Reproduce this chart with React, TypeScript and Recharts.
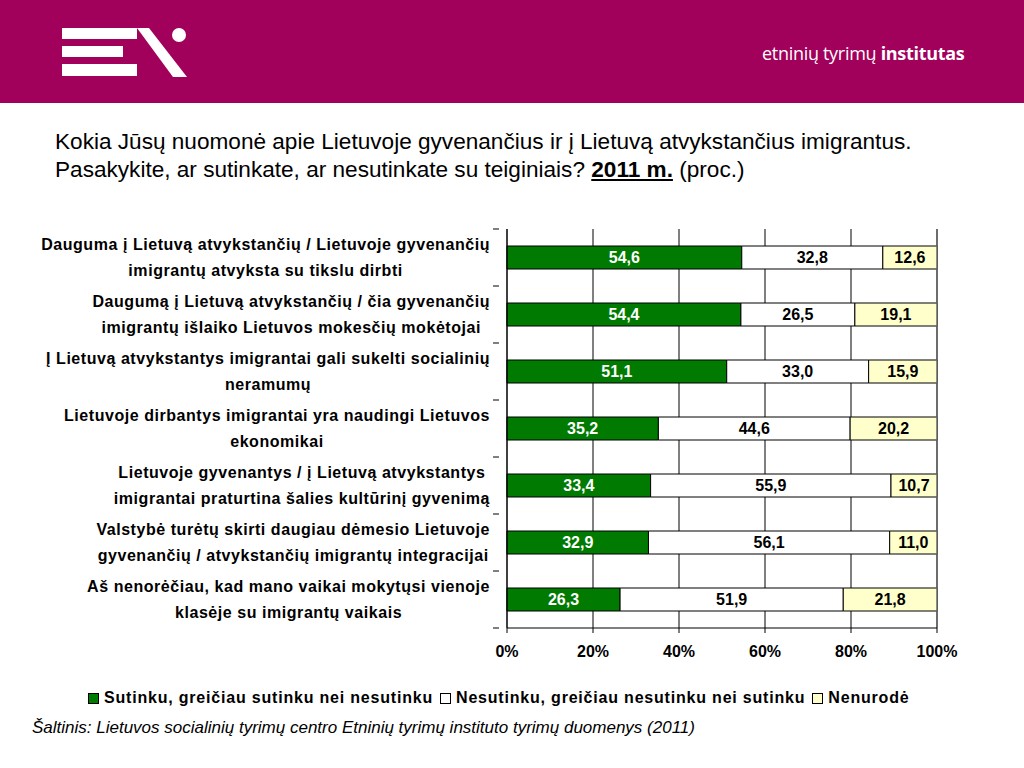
import React from 'react'
import { BarChart, Bar, XAxis, YAxis, CartesianGrid, LabelList, ReferenceLine } from 'recharts'

const categories = [
  'Dauguma į Lietuvą atvykstančių / Lietuvoje gyvenančių\nimigrantų atvyksta su tikslu dirbti',
  'Daugumą į Lietuvą atvykstančių / čia gyvenančių\nimigrantų išlaiko Lietuvos mokesčių mokėtojai',
  'Į Lietuvą atvykstantys imigrantai gali sukelti socialinių\nneramumų',
  'Lietuvoje dirbantys imigrantai yra naudingi Lietuvos\nekonomikai',
  'Lietuvoje gyvenantys / į Lietuvą atvykstantys\nimigrantai praturtina šalies kultūrinį gyvenimą',
  'Valstybė turėtų skirti daugiau dėmesio Lietuvoje\ngyvenančių / atvykstančių imigrantų integracijai',
  'Aš nenorėčiau, kad mano vaikai mokytųsi vienoje\nklasėje su imigrantų vaikais',
]
const agree = [54.6, 54.4, 51.1, 35.2, 33.4, 32.9, 26.3]
const disagree = [32.8, 26.5, 33.0, 44.6, 55.9, 56.1, 51.9]
const noAnswer = [12.6, 19.1, 15.9, 20.2, 10.7, 11.0, 21.8]
const xTicks = [0, 20, 40, 60, 80, 100]

const seriesNames = [
  'Sutinku, greičiau sutinku nei nesutinku',
  'Nesutinku, greičiau nesutinku nei sutinku',
  'Nenurodė',
]
const seriesColors = ['#007A00', '#FFFFFF', '#FFFFCC']

const data = categories.map((c, i) => ({
  name: c,
  agree: agree[i],
  disagree: disagree[i],
  noAnswer: noAnswer[i],
}))

const FONT = '"Liberation Sans", Arial, sans-serif'
const CHART_W = 1024
const CHART_H = 768
const MARGIN = { top: 229, right: 87, bottom: 110, left: 0 }
const Y_AXIS_W = 507
const X_AXIS_H = 30
const PLOT_H = CHART_H - MARGIN.top - MARGIN.bottom - X_AXIS_H
const BAND = PLOT_H / categories.length

const fmt = (v: any) => Number(v).toFixed(1).replace('.', ',')
const labelStyle = { fontSize: 16, fontWeight: 'bold', fontFamily: FONT }

const CategoryTick = (props: any) => {
  const { x, y, payload, index } = props
  const lines = String(payload.value).split('\n')
  return (
    <g>
      <line x1={x - 6} x2={x} y1={y - BAND / 2} y2={y - BAND / 2} stroke="#000" />
      {index === categories.length - 1 && (
        <line x1={x - 6} x2={x} y1={y + BAND / 2} y2={y + BAND / 2} stroke="#000" />
      )}
      <foreignObject x={0} y={y - BAND / 2} width={x - 9} height={BAND}>
        <div
          style={{
            width: '100%',
            height: '100%',
            display: 'flex',
            alignItems: 'center',
            justifyContent: 'flex-end',
          }}
        >
          <div
            style={{
              textAlign: 'center',
              fontFamily: FONT,
              fontWeight: 'bold',
              fontSize: 16,
              letterSpacing: 0.55,
              lineHeight: '26px',
              color: '#000',
              whiteSpace: 'nowrap',
            }}
          >
            {lines.map((l, i) => (
              <div key={i}>{l}</div>
            ))}
          </div>
        </div>
      </foreignObject>
    </g>
  )
}

const Logo = () => (
  <svg width={200} height={100} style={{ position: 'absolute', left: 0, top: 0 }}>
    <rect x={62} y={28} width={75} height={11} fill="#fff" />
    <rect x={62} y={46} width={61} height={11} fill="#fff" />
    <rect x={62} y={64} width={75} height={12} fill="#fff" />
    <polygon points="137,28 149,28 187,77 173,77" fill="#fff" />
    <circle cx={179} cy={35} r={7} fill="#fff" />
  </svg>
)

export default function App() {
  return (
    <div
      style={{
        position: 'absolute',
        left: 0,
        top: 0,
        width: CHART_W,
        height: CHART_H,
        background: '#fff',
        fontFamily: FONT,
        overflow: 'hidden',
      }}
    >
      <div style={{ position: 'absolute', left: 0, top: 0, width: 1024, height: 103, background: '#A1005B' }}>
        <Logo />
        <div
          style={{
            position: 'absolute',
            left: 762,
            top: 41,
            color: '#fff',
            fontSize: 18,
            fontFamily: '"Open Sans", sans-serif',
            letterSpacing: -0.3,
          }}
        >
          etninių tyrimų <b>institutas</b>
        </div>
      </div>

      <div
        style={{
          position: 'absolute',
          left: 55,
          top: 128,
          fontSize: 22.6,
          lineHeight: '28px',
          color: '#000',
          whiteSpace: 'nowrap',
        }}
      >
        Kokia Jūsų nuomonė apie Lietuvoje gyvenančius ir į Lietuvą atvykstančius imigrantus.
        <br />
        Pasakykite, ar sutinkate, ar nesutinkate su teiginiais?{' '}
        <b style={{ textDecoration: 'underline' }}>2011 m.</b> (proc.)
      </div>

      <div style={{ position: 'absolute', left: 0, top: 0 }}>
        <BarChart
          width={CHART_W}
          height={CHART_H}
          data={data}
          layout="vertical"
          margin={MARGIN}
          barSize={23}
        >
          <CartesianGrid horizontal={false} vertical={true} stroke="#000" />
          <XAxis
            type="number"
            domain={[0, 100]}
            ticks={xTicks}
            height={X_AXIS_H}
            tickFormatter={(v) => `${v}%`}
            tick={{ fill: '#000', fontSize: 16, fontWeight: 'bold', fontFamily: FONT }}
            axisLine={{ stroke: '#000' }}
            tickLine={{ stroke: '#000' }}
            tickSize={5}
            tickMargin={13}
            interval={0}
          />
          <XAxis
            xAxisId="top"
            orientation="top"
            type="number"
            domain={[0, 100]}
            height={0}
            tick={false}
            tickLine={false}
            axisLine={{ stroke: '#9a9a9a' }}
          />
          <YAxis
            type="category"
            dataKey="name"
            width={Y_AXIS_W}
            tick={<CategoryTick />}
            tickLine={false}
            axisLine={{ stroke: '#000' }}
            interval={0}
          />
          <ReferenceLine x={100} stroke="#9a9a9a" />
          <Bar dataKey="agree" stackId="a" fill={seriesColors[0]} stroke="#000" strokeWidth={1} isAnimationActive={false}>
            <LabelList dataKey="agree" position="center" formatter={fmt} fill="#fff" style={labelStyle} />
          </Bar>
          <Bar dataKey="disagree" stackId="a" fill={seriesColors[1]} stroke="#000" strokeWidth={1} isAnimationActive={false}>
            <LabelList dataKey="disagree" position="center" formatter={fmt} fill="#000" style={labelStyle} />
          </Bar>
          <Bar dataKey="noAnswer" stackId="a" fill={seriesColors[2]} stroke="#000" strokeWidth={1} isAnimationActive={false}>
            <LabelList dataKey="noAnswer" position="center" formatter={fmt} fill="#000" style={labelStyle} />
          </Bar>
        </BarChart>
      </div>

      <div
        style={{
          position: 'absolute',
          left: 88,
          top: 689,
          display: 'flex',
          fontSize: 16,
          fontWeight: 'bold',
          letterSpacing: 0.8,
          color: '#000',
          whiteSpace: 'nowrap',
        }}
      >
        {seriesNames.map((n, i) => (
          <span
            key={n}
            style={{ display: 'flex', alignItems: 'center', marginRight: i < seriesNames.length - 1 ? 7 : 0 }}
          >
            <span
              style={{
                display: 'inline-block',
                width: 9,
                height: 9,
                background: seriesColors[i],
                border: '1px solid #000',
                marginRight: 5,
              }}
            />
            {n}
          </span>
        ))}
      </div>

      <div
        style={{
          position: 'absolute',
          left: 32,
          top: 718,
          fontSize: 17,
          fontStyle: 'italic',
          color: '#000',
          whiteSpace: 'nowrap',
        }}
      >
        Šaltinis: Lietuvos socialinių tyrimų centro Etninių tyrimų instituto tyrimų duomenys (2011)
      </div>
    </div>
  )
}
